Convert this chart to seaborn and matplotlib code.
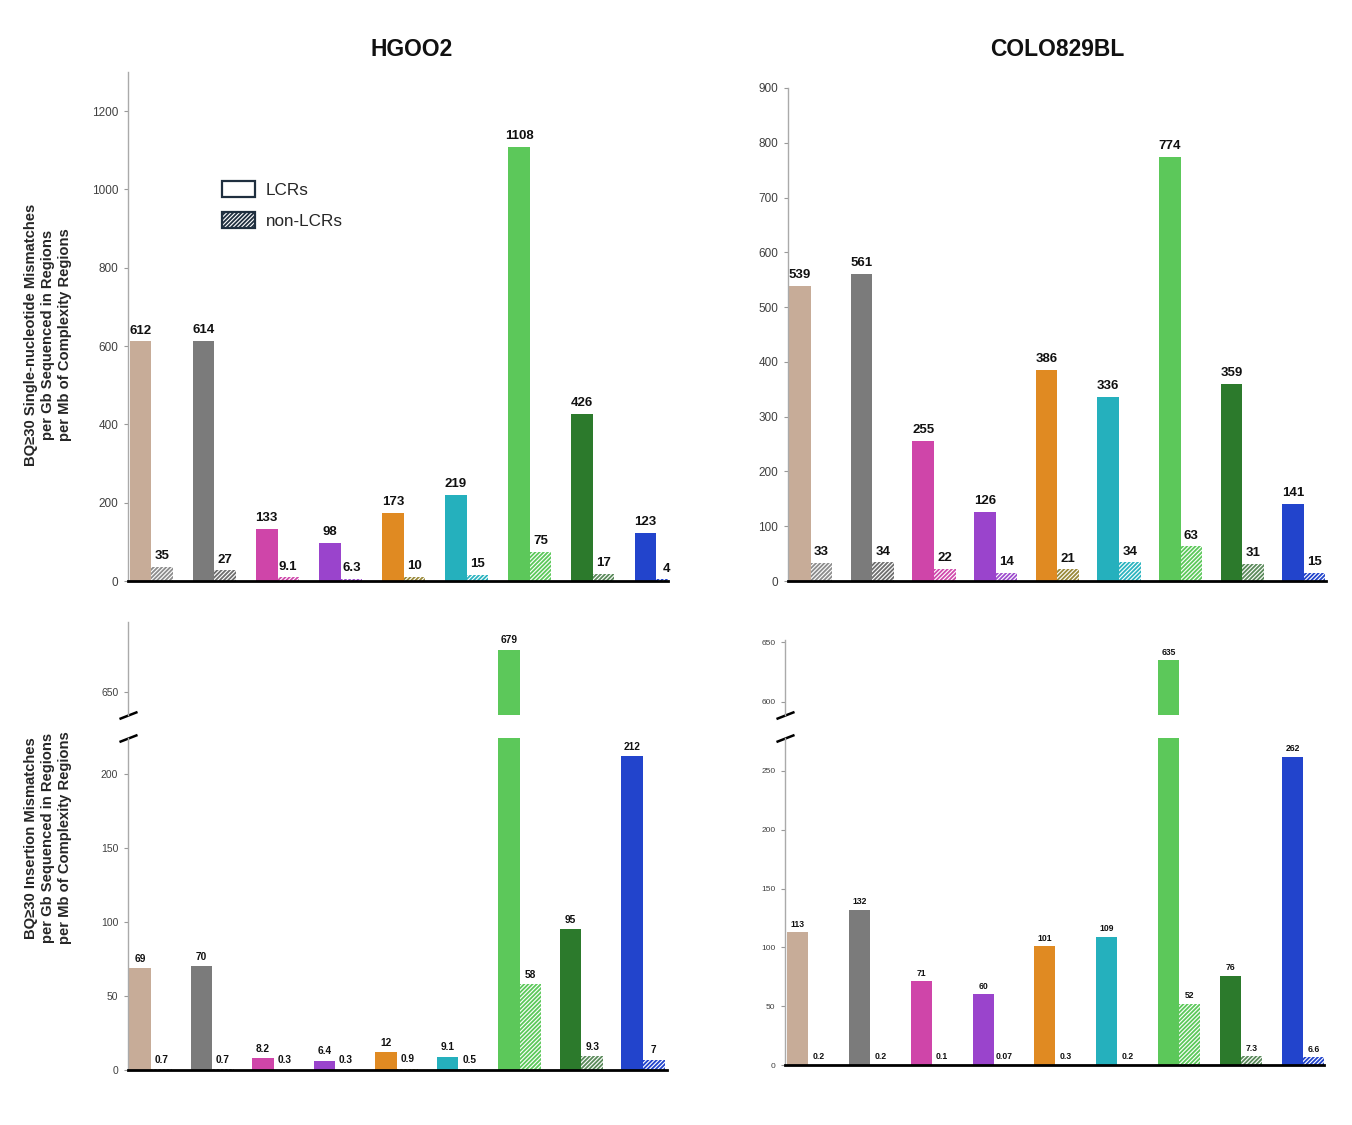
import matplotlib
matplotlib.use("Agg")
import matplotlib.pyplot as plt
import seaborn as sns
import pandas as pd
from matplotlib.patches import Patch

# ---------------- data ----------------
categories = [f"Set {i}" for i in range(1, 10)]
regions = ["LCRs", "non-LCRs"]

lcr_colors = ["#C7AC98", "#7B7B7B", "#CF45A9", "#9A44CC", "#E08A22",
              "#25B0BD", "#5CC85A", "#2C7A2C", "#2244CC"]
hatch_colors = ["#8C8C8C", "#6E6E6E", "#D04AAC", "#9E4CCE", "#9A8A3A",
                "#2CB4C0", "#5CC85A", "#5A8A5A", "#2244CC"]

hg_snv_lcr = [612, 614, 133, 98, 173, 219, 1108, 426, 123]
hg_snv_non = [35, 27, 9.1, 6.3, 10, 15, 75, 17, 4]
colo_snv_lcr = [539, 561, 255, 126, 386, 336, 774, 359, 141]
colo_snv_non = [33, 34, 22, 14, 21, 34, 63, 31, 15]
hg_ins_lcr = [69, 70, 8.2, 6.4, 12, 9.1, 679, 95, 212]
hg_ins_non = [0.7, 0.7, 0.3, 0.3, 0.9, 0.5, 58, 9.3, 7]
colo_ins_lcr = [113, 132, 71, 60, 101, 109, 635, 76, 262]
colo_ins_non = [0.2, 0.2, 0.1, 0.07, 0.3, 0.2, 52, 7.3, 6.6]

titles = ["HGOO2", "COLO829BL"]
ylabel_snv = ("BQ\u226530 Single-nucleotide Mismatches\n"
              "per Gb Sequenced in Regions\nper Mb of Complexity Regions")
ylabel_ins = ("BQ\u226530 Insertion Mismatches\n"
              "per Gb Sequenced in Regions\nper Mb of Complexity Regions")

# ---------------- style ----------------
sns.set_theme(style="white")
plt.rcParams["font.family"] = ["Liberation Sans", "DejaVu Sans"]
plt.rcParams["hatch.linewidth"] = 1.3
HATCH = "////////"

W, H = 1352, 1125
fig = plt.figure(figsize=(W / 100, H / 100), dpi=100)


def px_axes(left, right, top, bottom):
    return fig.add_axes([left / W, 1 - bottom / H, (right - left) / W, (bottom - top) / H])


def draw_bars(ax, lcr, non, width):
    df = pd.DataFrame({
        "category": categories * 2,
        "region": [regions[0]] * len(categories) + [regions[1]] * len(categories),
        "value": list(lcr) + list(non),
    })
    sns.barplot(data=df, x="category", y="value", hue="region", order=categories,
                hue_order=regions, width=width, gap=0, errorbar=None, legend=False,
                saturation=1, ax=ax)
    for p in ax.patches:
        cx = p.get_x() + p.get_width() / 2
        i = int(round(cx))
        if cx < i:
            p.set_facecolor(lcr_colors[i])
            p.set_edgecolor(lcr_colors[i])
            p.set_linewidth(0)
        else:
            p.set_facecolor("white")
            p.set_edgecolor(hatch_colors[i])
            p.set_hatch(HATCH)
            p.set_linewidth(0)


def label_bars(ax, lcr, non, width, fs, off, vmin=None, vmax=None):
    d = width / 4
    for i in range(len(categories)):
        for v, dx in ((lcr[i], -d), (non[i], d)):
            if vmin is not None and v < vmin:
                continue
            if vmax is not None and v > vmax:
                continue
            ax.annotate(f"{v:g}", (i + dx, v), xytext=(0, off), textcoords="offset points",
                        ha="center", va="bottom", fontsize=fs, fontweight="bold",
                        color="#111111")


def style_axes(ax, xlim, ylim, ticks, tick_fs, bottom_spine=True):
    ax.set_xlim(*xlim)
    ax.set_ylim(*ylim)
    ax.set_yticks(ticks)
    ax.set_xticks([])
    ax.set_xlabel("")
    ax.set_ylabel("")
    for s in ("top", "right"):
        ax.spines[s].set_visible(False)
    ax.spines["left"].set_color("#AAAAAA")
    ax.spines["left"].set_linewidth(1)
    if bottom_spine:
        ax.spines["bottom"].set_color("black")
        ax.spines["bottom"].set_linewidth(2)
    else:
        ax.spines["bottom"].set_visible(False)
    ax.tick_params(axis="y", left=True, length=3, width=0.8, color="#999999",
                   labelsize=tick_fs, labelcolor="#404040", pad=4)
    ax.patch.set_alpha(0)


def break_mark(ax, y):
    ax.plot([0], [y], transform=ax.transAxes, marker=[(-1, -0.39), (1, 0.39)],
            markersize=13, markeredgewidth=1.8, color="black", clip_on=False)


# ---------------- top row: SNV ----------------
w_tl = 0.68
ax_tl = px_axes(128, 668, 72, 581)
draw_bars(ax_tl, hg_snv_lcr, hg_snv_non, w_tl)
style_axes(ax_tl, (-0.37, 8.19), (0, 1300), [0, 200, 400, 600, 800, 1000, 1200], 8.5)
label_bars(ax_tl, hg_snv_lcr, hg_snv_non, w_tl, 9.5, 3.5)

w_tr = 0.7
ax_tr = px_axes(788, 1326, 88, 581)
draw_bars(ax_tr, colo_snv_lcr, colo_snv_non, w_tr)
style_axes(ax_tr, (-0.37, 8.36), (0, 900), [0, 100, 200, 300, 400, 500, 600, 700, 800, 900], 8.5)
label_bars(ax_tr, colo_snv_lcr, colo_snv_non, w_tr, 9.5, 3.5)

# legend
handles = [Patch(facecolor="white", edgecolor="#1F2F3F", linewidth=1.6),
           Patch(facecolor="white", edgecolor="#1F2F3F", hatch=HATCH, linewidth=1.6)]
ax_tl.legend(handles, regions, loc="upper left", bbox_to_anchor=(222 / W, 1 - 181 / H),
             bbox_transform=fig.transFigure, frameon=False, fontsize=12.3,
             handlelength=1.95, handleheight=1.05, handletextpad=0.6,
             labelspacing=0.85, borderpad=0, borderaxespad=0)

# ---------------- bottom row: insertions (broken axes) ----------------
w_bl = 0.7
bl_x = (-0.37, 8.39)
bl_low_lim, bl_up_lim = (0, 224), (634, 698)
ax_bl_up = px_axes(128, 667, 622, 715)
ax_bl_lo = px_axes(128, 667, 738, 1070)
for ax in (ax_bl_up, ax_bl_lo):
    draw_bars(ax, hg_ins_lcr, hg_ins_non, w_bl)
style_axes(ax_bl_up, bl_x, bl_up_lim, [650], 7.5, bottom_spine=False)
style_axes(ax_bl_lo, bl_x, bl_low_lim, [0, 50, 100, 150, 200], 7.5)
label_bars(ax_bl_lo, hg_ins_lcr, hg_ins_non, w_bl, 7.3, 3, vmax=bl_low_lim[1])
label_bars(ax_bl_up, hg_ins_lcr, hg_ins_non, w_bl, 7.3, 3, vmin=bl_low_lim[1])
break_mark(ax_bl_up, 0.0)
break_mark(ax_bl_lo, 1.0)

w_br = 0.68
br_x = (-0.37, 8.34)
br_low_lim, br_up_lim = (0, 278), (589, 652)
ax_br_up = px_axes(785, 1324, 640, 715)
ax_br_lo = px_axes(785, 1324, 738, 1065)
for ax in (ax_br_up, ax_br_lo):
    draw_bars(ax, colo_ins_lcr, colo_ins_non, w_br)
style_axes(ax_br_up, br_x, br_up_lim, [600, 650], 6, bottom_spine=False)
style_axes(ax_br_lo, br_x, br_low_lim, [0, 50, 100, 150, 200, 250], 6)
label_bars(ax_br_lo, colo_ins_lcr, colo_ins_non, w_br, 6.2, 2.5, vmax=br_low_lim[1])
label_bars(ax_br_up, colo_ins_lcr, colo_ins_non, w_br, 6.2, 2.5, vmin=br_low_lim[1])
break_mark(ax_br_up, 0.0)
break_mark(ax_br_lo, 1.0)

# ---------------- titles & y labels ----------------
fig.text(412 / W, 1 - 50 / H, titles[0], ha="center", va="center",
         fontsize=16.5, fontweight="bold", color="#111111")
fig.text(1057 / W, 1 - 50 / H, titles[1], ha="center", va="center",
         fontsize=16.5, fontweight="bold", color="#111111")
fig.text(48 / W, 1 - 335 / H, ylabel_snv, rotation=90, ha="center", va="center",
         multialignment="center", fontsize=10.6, fontweight="bold", linespacing=1.25)
fig.text(48 / W, 1 - 838 / H, ylabel_ins, rotation=90, ha="center", va="center",
         multialignment="center", fontsize=10.6, fontweight="bold", linespacing=1.25)

fig.savefig("out.png", dpi=100, facecolor="white")
